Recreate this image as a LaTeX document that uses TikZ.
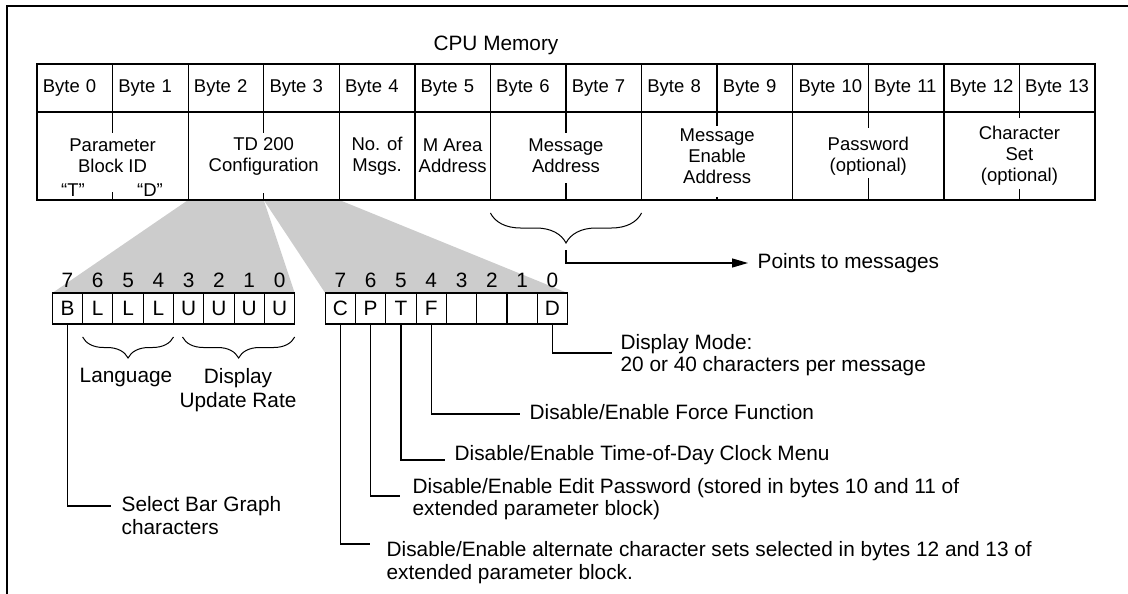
\documentclass[tikz,border=0pt]{standalone}
\usepackage{fontspec}
\setmainfont{Liberation Sans}
\usetikzlibrary{positioning,calc,decorations.pathreplacing,backgrounds,arrows.meta}

\begin{document}
\begin{tikzpicture}[x=1pt,y=-1pt,line width=1.3pt,
        font=\fontsize{20.8}{24}\selectfont,
        tablefont/.style={font=\fontsize{18.5}{21}\selectfont},
        bytecell/.style={tablefont, draw, rectangle, outer sep=0pt, minimum height=48pt, text width=64pt, inner xsep=5.78pt, inner ysep=0pt, align=left},
        groupcell/.style={tablefont, draw, rectangle, outer sep=0pt, minimum height=88pt, inner sep=0pt, align=center, anchor=north},
        bitbox/.style={draw, rectangle, outer sep=0pt, minimum width=30.3pt, minimum height=31pt, inner sep=0pt, line width=1.1pt},
        bitnum/.style={anchor=base, inner sep=0pt},
        note/.style={anchor=west, inner sep=0pt, align=left, font=\fontsize{20.8}{22.5}\selectfont},
        bitbrace/.style={decorate, decoration={brace, mirror, amplitude=21pt}, line width=1pt},
        membrace/.style={decorate, decoration={brace, mirror, amplitude=30pt}, line width=1pt},
        wedgegray/.style={fill=black!20}]
    \useasboundingbox (0,0) rectangle (1128,594);
    \draw (1128,6) -- (7,6) -- (7,594);

    \node (cpumem) at (496,45) {CPU Memory};

    % memory table
    \foreach \i in {0,...,13}
        \node[bytecell] (b\i) at ({74.8+75.57*\i},88) {Byte \i};

    \node[groupcell, minimum width=151.14pt] (pbid) at (b0.south east) {Parameter\\Block ID};
    \node[groupcell, minimum width=151.14pt] (tdcfg) at (b2.south east) {TD 200\\Configuration};
    \node[groupcell, minimum width=75.57pt] (nmsg) at (b4.south) {No. of\\Msgs.};
    \node[groupcell, minimum width=75.57pt] (marea) at (b5.south) {M Area\\Address};
    \node[groupcell, minimum width=151.14pt] (msgaddr) at (b6.south east) {Message\\Address};
    \node[groupcell, minimum width=151.14pt] (msgen) at (b8.south east) {Message\\Enable\\Address};
    \node[groupcell, minimum width=151.14pt] (passwd) at (b10.south east) {Password\\(optional)};
    \node[groupcell, minimum width=151.14pt] (charset) at (b12.south east) {Character\\Set\\(optional)};
    \node[tablefont] (tq) at (73,190) {“T”};
    \node[tablefont] (dq) at (150,190) {“D”};

    \foreach \g/\a/\b in {pbid/21/8, tdcfg/21/7, msgaddr/21/17, msgen/14/3, passwd/16/22, charset/6/11}
        \draw (\g.north) -- ++(0,\a) (\g.south) -- ++(0,-\b);

    % configuration bits
    \foreach \t [count=\k from 0] in {B,L,L,L,U,U,U,U} {
        \pgfmathtruncatemacro\bit{7-\k}
        \node[bitbox] (l\bit) at ({67.45+30.3*\k},308.5) {\t};
        \node[bitnum] (ln\bit) at ({67.45+30.3*\k},287) {\bit};
    }
    \foreach \t [count=\k from 0] in {C,P,T,F,{},{},{},D} {
        \pgfmathtruncatemacro\bit{7-\k}
        \node[bitbox] (r\bit) at ({340.35+30.3*\k},308.5) {\t};
        \node[bitnum] (rn\bit) at ({340.35+30.3*\k},287) {\bit};
    }

    \begin{scope}[on background layer]
        \fill[wedgegray] (tdcfg.south west) -- (tdcfg.south) -- (l0.north east) -- (l7.north west) -- cycle;
        \fill[wedgegray] (tdcfg.south) -- (tdcfg.south east) -- (r0.north east) -- (r7.north west) -- cycle;
    \end{scope}

    \draw[bitbrace] ($(l6.south west)+(0,13)$) -- ($(l4.south east)+(0,13)$);
    \draw[bitbrace] ($(l3.south west)+(9,13)$) -- ($(l0.south east)+(0,13)$);
    \node (lang) at (126,378) {Language};
    \node[align=center] (updrate) at (238,390) {Display\\Update Rate};

    % pointer to messages
    \draw[membrace] ($(msgaddr.south west)+(0,13)$) -- ($(msgaddr.south east)+(0,13)$);
    \coordinate (tip) at ($(msgaddr.south)+(0,50)$);
    \node[note] (ptm) at (757,263) {Points to messages};
    \draw[-{Triangle[length=16pt,width=9pt]}, shorten >=9pt] (tip) |- (ptm.west);

    % bit descriptions
    \node[note] (dispmode) at (620,355) {Display Mode:\\20 or 40 characters per message};
    \node[note] (force) at (529,412) {Disable/Enable Force Function};
    \node[note] (todclk) at (454,455) {Disable/Enable Time-of-Day Clock Menu};
    \node[note] (editpw) at (412,499) {Disable/Enable Edit Password (stored in bytes 10 and 11 of\\extended parameter block)};
    \node[note] (altset) at (386,562.5) {Disable/Enable alternate character sets selected in bytes 12 and 13 of\\extended parameter block.};
    \node[note] (selbar) at (121,515.5) {Select Bar Graph\\characters};

    \draw[shorten >=8pt] (r0.south) |- ([yshift=2pt]dispmode.west);
    \draw[shorten >=9pt] (r4.south) |- ([yshift=-2pt]force.west);
    \draw[shorten >=9pt] (r5.south) |- ([yshift=-5pt]todclk.west);
    \draw[shorten >=12pt] (r6.south) |- ([yshift=3pt]editpw.west);
    \draw[shorten >=16pt] (r7.south) |- ([yshift=18.5pt]altset.west);
    \draw[shorten >=10pt] (l7.south) |- ([yshift=9.5pt]selbar.west);
\end{tikzpicture}
\end{document}
